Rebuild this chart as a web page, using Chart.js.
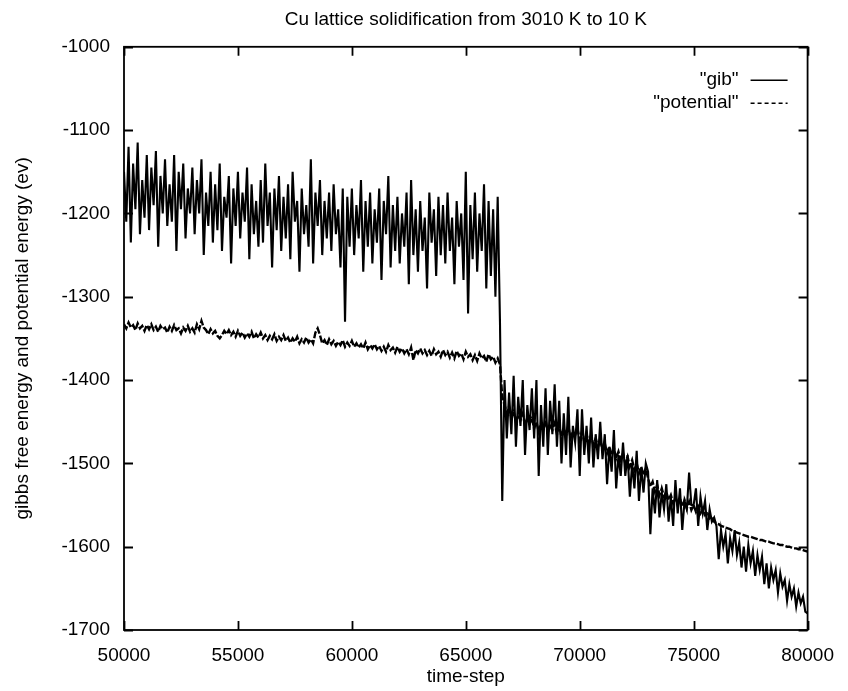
<!DOCTYPE html>
<html><head><meta charset="utf-8">
<script src="https://cdn.jsdelivr.net/npm/chart.js@4.4.0/dist/chart.umd.min.js"></script>
<style>html,body{margin:0;padding:0;background:#fff;}</style>
</head><body>
<canvas id="c" width="848" height="691"></canvas>
<script>
const chartTitle = 'Cu lattice solidification from 3010 K to 10 K';
const xTitle = 'time-step';
const yTitle = 'gibbs free energy and potential energy (ev)';
const seriesNames = ['"gib"', '"potential"'];
const xTicks = [50000, 55000, 60000, 65000, 70000, 75000, 80000];
const yTicks = [-1700, -1600, -1500, -1400, -1300, -1200, -1100, -1000];
// sample grid: one reading every 100 time-steps from 50000 to 80000
const timeSteps = Array.from({length: 301}, (_, i) => 50000 + i * 100);

const gib = [
-1150,-1210,-1120,-1235,-1140,-1195,-1115,-1225,-1160,-1205,
-1130,-1220,-1145,-1190,-1125,-1240,-1155,-1200,-1135,-1215,
-1165,-1210,-1130,-1245,-1150,-1195,-1140,-1230,-1170,-1200,
-1145,-1225,-1160,-1200,-1135,-1250,-1175,-1215,-1150,-1235,
-1165,-1220,-1140,-1245,-1180,-1205,-1155,-1260,-1170,-1215,
-1150,-1230,-1175,-1210,-1145,-1255,-1165,-1225,-1185,-1240,
-1160,-1235,-1140,-1215,-1175,-1265,-1170,-1220,-1155,-1245,
-1180,-1230,-1165,-1255,-1150,-1210,-1185,-1270,-1170,-1225,
-1190,-1240,-1135,-1260,-1175,-1215,-1160,-1250,-1185,-1230,
-1175,-1245,-1165,-1225,-1195,-1265,-1170,-1330,-1180,-1240,
-1170,-1250,-1190,-1230,-1160,-1270,-1185,-1240,-1175,-1260,
-1195,-1235,-1170,-1280,-1185,-1225,-1155,-1265,-1190,-1245,
-1180,-1260,-1200,-1240,-1175,-1285,-1160,-1250,-1195,-1270,
-1185,-1245,-1205,-1290,-1175,-1235,-1195,-1275,-1180,-1250,
-1190,-1260,-1175,-1245,-1205,-1285,-1185,-1240,-1200,-1280,
-1150,-1320,-1190,-1255,-1175,-1270,-1200,-1245,-1165,-1290,
-1185,-1275,-1195,-1300,-1180,-1330,-1545,-1400,-1470,-1415,
-1465,-1395,-1480,-1420,-1455,-1400,-1490,-1430,-1460,-1410,
-1470,-1400,-1515,-1430,-1480,-1410,-1490,-1425,-1465,-1405,
-1480,-1425,-1500,-1440,-1490,-1420,-1505,-1455,-1475,-1435,
-1515,-1435,-1490,-1455,-1500,-1445,-1505,-1465,-1495,-1450,
-1495,-1465,-1525,-1480,-1510,-1460,-1530,-1490,-1515,-1475,
-1515,-1490,-1540,-1500,-1530,-1485,-1545,-1505,-1535,-1500,
-1510,-1585,-1530,-1560,-1520,-1565,-1535,-1555,-1525,-1570,
-1540,-1575,-1520,-1560,-1530,-1580,-1545,-1555,-1511,-1550,
-1550,-1530,-1575,-1540,-1560,-1545,-1580,-1555,-1570,-1565,
-1575,-1615,-1580,-1600,-1585,-1620,-1590,-1605,-1580,-1610,
-1595,-1625,-1600,-1630,-1598,-1620,-1605,-1635,-1610,-1628,
-1612,-1645,-1620,-1650,-1625,-1640,-1628,-1655,-1632,-1648,
-1640,-1665,-1645,-1660,-1650,-1672,-1655,-1668,-1660,-1678,
-1680
];

const potential = [
-1333,-1338,-1331,-1337,-1334,-1340,-1332,-1338,-1335,-1341,
-1334,-1339,-1333,-1340,-1336,-1342,-1335,-1339,-1337,-1343,
-1336,-1341,-1334,-1340,-1338,-1344,-1337,-1341,-1335,-1342,
-1338,-1343,-1333,-1339,-1329,-1337,-1340,-1345,-1339,-1344,
-1341,-1347,-1350,-1346,-1341,-1345,-1340,-1346,-1342,-1348,
-1341,-1347,-1343,-1349,-1344,-1348,-1342,-1350,-1345,-1349,
-1343,-1350,-1346,-1352,-1347,-1351,-1345,-1353,-1348,-1352,
-1346,-1353,-1349,-1355,-1350,-1354,-1348,-1356,-1351,-1355,
-1349,-1355,-1351,-1356,-1343,-1338,-1346,-1356,-1352,-1358,
-1351,-1357,-1353,-1359,-1354,-1358,-1352,-1360,-1355,-1359,
-1353,-1360,-1356,-1361,-1357,-1362,-1355,-1363,-1358,-1362,
-1357,-1363,-1359,-1365,-1360,-1366,-1358,-1364,-1361,-1367,
-1360,-1366,-1362,-1368,-1363,-1369,-1361,-1376,-1364,-1368,
-1362,-1368,-1364,-1370,-1365,-1371,-1363,-1369,-1366,-1372,
-1364,-1370,-1366,-1373,-1367,-1374,-1365,-1371,-1368,-1375,
-1366,-1372,-1369,-1376,-1370,-1377,-1368,-1374,-1371,-1378,
-1369,-1375,-1372,-1379,-1374,-1381,-1420,-1430,-1440,-1432,
-1445,-1438,-1450,-1442,-1448,-1440,-1455,-1445,-1452,-1446,
-1458,-1450,-1462,-1452,-1460,-1448,-1463,-1455,-1460,-1452,
-1465,-1455,-1468,-1458,-1466,-1455,-1470,-1462,-1466,-1458,
-1472,-1462,-1474,-1465,-1476,-1466,-1478,-1470,-1480,-1472,
-1484,-1476,-1488,-1480,-1490,-1482,-1494,-1486,-1496,-1488,
-1500,-1492,-1504,-1496,-1508,-1500,-1512,-1504,-1514,-1506,
-1518,-1528,-1522,-1534,-1526,-1538,-1530,-1540,-1534,-1544,
-1538,-1548,-1540,-1550,-1542,-1552,-1544,-1554,-1546,-1556,
-1550,-1558,-1552,-1560,-1555,-1562,-1558,-1566,-1564,-1570,
-1572,-1573,-1575,-1576,-1577,-1578,-1579,-1581,-1582,-1583,
-1584,-1585,-1586,-1587,-1588,-1588,-1589,-1590,-1591,-1592,
-1592,-1593,-1594,-1594,-1595,-1596,-1596,-1597,-1598,-1598,
-1599,-1600,-1600,-1601,-1602,-1602,-1603,-1603,-1604,-1605,
-1606
];

const FONT = '"Liberation Sans", Arial, Helvetica, sans-serif';
const TICK_LEN = 9;

const framePlugin = {
  id: 'frame',
  afterDatasetsDraw(chart) {
    const {ctx, chartArea: a, scales: {x, y}} = chart;
    ctx.save();
    ctx.strokeStyle = '#000';
    ctx.lineWidth = 1.8;
    ctx.strokeRect(a.left, a.top, a.right - a.left, a.bottom - a.top);
    ctx.beginPath();
    xTicks.forEach(v => {
      const px = Math.round(x.getPixelForValue(v)) + 0.5;
      ctx.moveTo(px, a.bottom); ctx.lineTo(px, a.bottom - TICK_LEN);
      ctx.moveTo(px, a.top); ctx.lineTo(px, a.top + TICK_LEN);
    });
    yTicks.forEach(v => {
      const py = Math.round(y.getPixelForValue(v)) + 0.5;
      ctx.moveTo(a.left, py); ctx.lineTo(a.left + TICK_LEN, py);
      ctx.moveTo(a.right, py); ctx.lineTo(a.right - TICK_LEN, py);
    });
    ctx.stroke();
    // key (gnuplot style: text then sample)
    ctx.font = '19px ' + FONT;
    ctx.fillStyle = '#000';
    ctx.textAlign = 'right';
    ctx.textBaseline = 'middle';
    const tx = a.right - 69, lx0 = a.right - 57, lx1 = a.right - 20;
    const rows = [a.top + 33, a.top + 56];
    chart.data.datasets.forEach((ds, i) => {
      ctx.fillText(ds.label, tx, rows[i]);
      ctx.beginPath();
      ctx.lineWidth = 1.5;
      ctx.setLineDash(i === 1 ? [4, 3] : []);
      ctx.moveTo(lx0, rows[i] + 0.5); ctx.lineTo(lx1, rows[i] + 0.5);
      ctx.stroke();
    });
    ctx.restore();
  }
};

new Chart(document.getElementById('c'), {
  type: 'line',
  data: {
    datasets: [
      {label: seriesNames[0], data: timeSteps.map((t, i) => ({x: t, y: gib[i]})),
       borderColor: '#000', borderWidth: 2.1, pointRadius: 0, tension: 0, fill: false},
      {label: seriesNames[1], data: timeSteps.map((t, i) => ({x: t, y: potential[i]})),
       borderColor: '#000', borderWidth: 2.4, pointRadius: 0, tension: 0, fill: false, borderDash: [7, 2]}
    ]
  },
  options: {
    responsive: false,
    animation: false,
    devicePixelRatio: 1,
    layout: {padding: {left: 0, right: 36, top: 0, bottom: 0}},
    plugins: {
      legend: {display: false},
      tooltip: {enabled: false},
      title: {
        display: true, text: chartTitle, color: '#000', fullSize: false,
        font: {family: FONT, size: 19, weight: 'normal', lineHeight: 1.2},
        padding: {top: 8, bottom: 16}
      }
    },
    scales: {
      x: {
        type: 'linear', position: 'bottom', min: 50000, max: 80000,
        afterBuildTicks: s => { s.ticks = xTicks.map(v => ({value: v})); },
        afterFit: s => { s.height = 61; },
        ticks: {color: '#000', font: {family: FONT, size: 19}, padding: 14, maxRotation: 0, autoSkip: false,
                callback: v => String(v)},
        grid: {display: false, drawTicks: false},
        border: {display: false},
        title: {display: true, text: xTitle, color: '#000', font: {family: FONT, size: 19}, padding: {top: 0, bottom: 3}}
      },
      y: {
        type: 'linear', position: 'left', min: -1700, max: -1000,
        afterBuildTicks: s => { s.ticks = yTicks.map(v => ({value: v})); },
        afterFit: s => { s.width = 124; },
        ticks: {color: '#000', font: {family: FONT, size: 19}, padding: 14, autoSkip: false,
                callback: v => String(v)},
        grid: {display: false, drawTicks: false},
        border: {display: false},
        title: {display: true, text: yTitle, color: '#000', font: {family: FONT, size: 19}, padding: {top: 11, bottom: 0}}
      }
    }
  },
  plugins: [framePlugin]
});
</script>
</body></html>
